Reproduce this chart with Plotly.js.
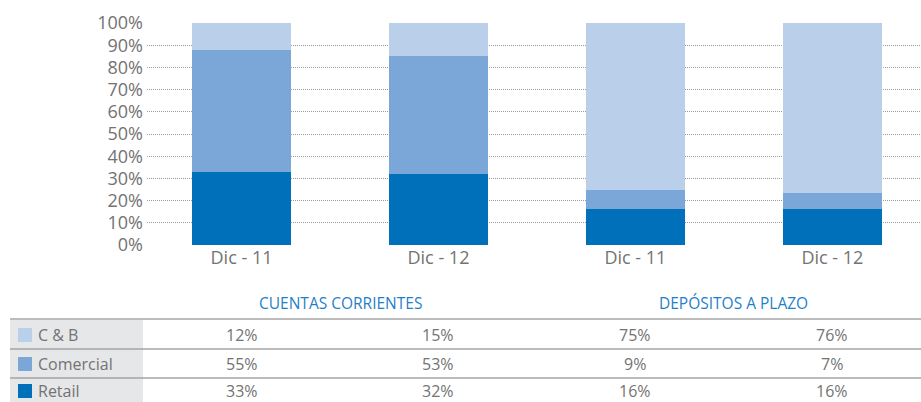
<!DOCTYPE html>
<html>
<head>
<meta charset="utf-8">
<script src="https://cdn.plot.ly/plotly-3.0.1.min.js"></script>
<style>
  html, body { margin: 0; padding: 0; background: #fff; }
  #chart { width: 921px; height: 402px; }
</style>
</head>
<body>
<div id="chart"></div>
<script>
var periods = ['Dic - 11', 'Dic - 12', 'Dic - 11', 'Dic - 12'];
var groups = ['CUENTAS CORRIENTES', 'DEPÓSITOS A PLAZO'];
var seriesNames = ['C & B', 'Comercial', 'Retail'];
var cbValues = [12, 15, 75, 76];
var comercialValues = [55, 53, 9, 7];
var retailValues = [33, 32, 16, 16];
var colors = {'C & B': '#B9CFEA', 'Comercial': '#7BA7D8', 'Retail': '#0070BA'};

var xs = periods.map(function(p, i) { return i; });
var valuesBySeries = {'C & B': cbValues, 'Comercial': comercialValues, 'Retail': retailValues};

// stack from bottom: Retail, Comercial, C & B (100% stacked)
var stackOrder = ['Retail', 'Comercial', 'C & B'];
var data = stackOrder.map(function(name) {
  return {
    type: 'bar',
    name: name,
    x: xs,
    y: valuesBySeries[name],
    width: 0.5,
    marker: {color: colors[name]},
    hovertemplate: name + ': %{y}%<extra></extra>'
  };
});

var font = 'Open Sans, sans-serif';
var textGrey = '#737373';

// pixel helpers for the table under the plot (plot spans y 23..245)
function py(pix) { return (245 - pix) / 222; }
function px(pix) { return (pix - 147) / 774; }

var rowCenters = [335, 364, 391];
var annotations = [];
var shapes = [];

// group headers
groups.forEach(function(g, i) {
  annotations.push({
    text: g, xref: 'x', yref: 'paper', x: i * 2 + 0.5, y: py(303),
    xanchor: 'center', yanchor: 'middle',
    showarrow: false, font: {family: font, size: 15.5, color: '#1F7FC8'}
  });
});

// grey label column
shapes.push({type: 'rect', xref: 'paper', yref: 'paper', x0: px(10), x1: px(143),
  y0: py(320), y1: py(402), fillcolor: '#E6E7E8', line: {width: 0}, layer: 'below'});

// row lines
[319, 349, 378].forEach(function(yy, i) {
  shapes.push({type: 'line', xref: 'paper', yref: 'paper', x0: px(10), x1: 1,
    y0: py(yy), y1: py(yy), line: {color: i === 0 ? '#7a7a7a' : '#a5a5a5', width: i === 0 ? 1.2 : 1.6}});
});

seriesNames.forEach(function(name, r) {
  var yc = py(rowCenters[r]);
  shapes.push({type: 'rect', xref: 'paper', yref: 'paper', x0: px(18), x1: px(32),
    y0: yc - 7 / 222, y1: yc + 7 / 222, fillcolor: colors[name], line: {width: 0}});
  annotations.push({
    text: name, xref: 'paper', yref: 'paper', x: px(36), y: yc,
    xanchor: 'left', yanchor: 'middle',
    showarrow: false, font: {family: font, size: 16, color: textGrey}
  });
  valuesBySeries[name].forEach(function(v, i) {
    annotations.push({
      text: v + '%', xref: 'x', yref: 'paper', x: xs[i], y: yc,
      xanchor: 'center', yanchor: 'middle',
      showarrow: false, font: {family: font, size: 16, color: textGrey}
    });
  });
});

var layout = {
  width: 921,
  height: 402,
  margin: {l: 147, r: 0, t: 23, b: 157},
  barmode: 'stack',
  barnorm: 'fraction',
  showlegend: false,
  paper_bgcolor: '#fff',
  plot_bgcolor: '#fff',
  font: {family: font, color: textGrey},
  xaxis: {
    range: [-0.48, 3.45],
    tickvals: xs,
    ticktext: periods,
    showgrid: false,
    zeroline: false,
    tickfont: {family: font, size: 18, color: textGrey},
    fixedrange: true
  },
  yaxis: {
    range: [0, 1],
    tickvals: [0, 0.1, 0.2, 0.3, 0.4, 0.5, 0.6, 0.7, 0.8, 0.9, 1],
    tickformat: '.0%',
    gridcolor: '#9a9a9a',
    griddash: '1px,1px',
    gridwidth: 1,
    zeroline: false,
    tickfont: {family: font, size: 18, color: textGrey},
    ticklabelstandoff: 3,
    fixedrange: true
  },
  annotations: annotations,
  shapes: shapes
};

Plotly.newPlot('chart', data, layout, {displayModeBar: false, displaylogo: false});
</script>
</body>
</html>
